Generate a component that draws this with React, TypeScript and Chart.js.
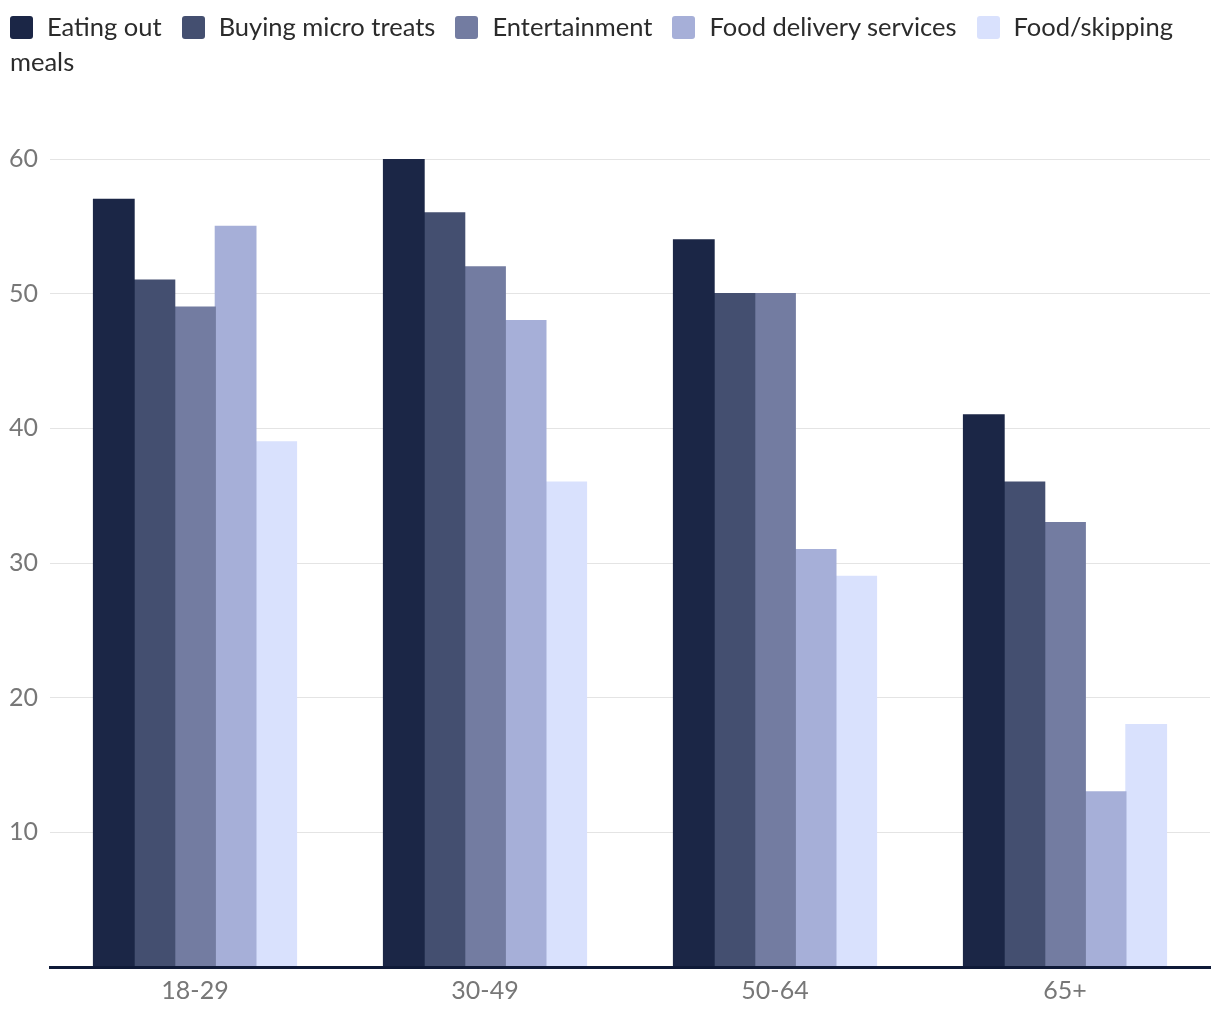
import React, { useEffect, useRef } from "react";
import { Chart, registerables } from "chart.js";

Chart.register(...registerables);

const categories = ["18-29", "30-49", "50-64", "65+"];
const seriesNames = [
  "Eating out",
  "Buying micro treats",
  "Entertainment",
  "Food delivery services",
  "Food/skipping meals",
];
const eatingOut = [57, 60, 54, 41];
const microTreats = [51, 56, 50, 36];
const entertainment = [49, 52, 50, 33];
const foodDelivery = [55, 48, 31, 13];
const skippingMeals = [39, 36, 29, 18];
const yTicks = [10, 20, 30, 40, 50, 60];
const colors = ["#1b2646", "#444f70", "#737ca1", "#a6afd8", "#d9e1fd"];

const FONT = "Lato, 'Noto Sans', sans-serif";

export default function App() {
  const ref = useRef<HTMLCanvasElement | null>(null);

  useEffect(() => {
    if (!ref.current) return;
    const values = [eatingOut, microTreats, entertainment, foodDelivery, skippingMeals];
    const chart = new Chart(ref.current, {
      type: "bar",
      data: {
        labels: categories,
        datasets: seriesNames.map((name, i) => ({
          label: name,
          data: values[i],
          backgroundColor: colors[i],
          borderWidth: 0,
          inflateAmount: 0.6,
          categoryPercentage: 0.7,
          barPercentage: 1,
        })),
      },
      options: {
        animation: false,
        responsive: false,
        maintainAspectRatio: false,
        layout: { padding: { top: 159, right: 10, left: 0, bottom: 0 } },
        plugins: {
          legend: { display: false },
          tooltip: { enabled: false },
        },
        scales: {
          x: {
            grid: { display: false, drawTicks: false },
            border: { display: true, color: "#0f1a38", width: 3, z: 1 },
            ticks: { color: "#777777", font: { family: FONT, size: 25 }, padding: 9 },
            afterFit: (s: any) => {
              s.height = 53;
            },
          },
          y: {
            min: 0,
            max: 60,
            afterBuildTicks: (s: any) => {
              s.ticks = yTicks.map((v) => ({ value: v }));
            },
            grid: { color: "#e4e4e4", lineWidth: 1, drawTicks: false },
            border: { display: false },
            ticks: { color: "#777777", font: { family: FONT, size: 25 }, padding: 12 },
            afterFit: (s: any) => {
              s.width = 50;
            },
          },
        },
      },
    });
    return () => chart.destroy();
  }, []);

  return (
    <div style={{ position: "absolute", left: 0, top: 0, width: 1220, height: 1020, background: "#fff" }}>
      <canvas ref={ref} width={1220} height={1020} style={{ position: "absolute", left: 0, top: 0 }} />
      <div
        style={{
          position: "absolute",
          left: 10,
          top: 9,
          width: 1200,
          fontFamily: FONT,
          fontSize: 25.5,
          lineHeight: "35px",
          color: "#2b2b2b",
        }}
      >
        {seriesNames.map((name, i) => (
          <span key={name} style={{ marginRight: i < seriesNames.length - 1 ? 20 : 0 }}>
            <span
              style={{
                display: "inline-block",
                width: 23,
                height: 23,
                borderRadius: 3,
                background: colors[i],
                verticalAlign: "-3px",
                marginRight: 14,
              }}
            />
            {name}
          </span>
        ))}
      </div>
    </div>
  );
}
